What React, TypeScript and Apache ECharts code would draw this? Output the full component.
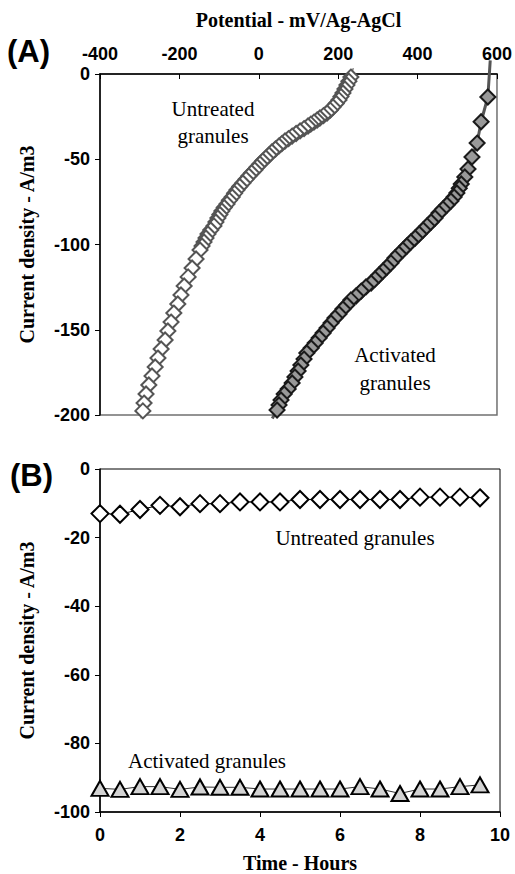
import React, { useEffect, useRef } from "react";
import * as echarts from "echarts";

// Panel A: polarisation curves (potential mV vs Ag-AgCl, current density A/m3)
const untreatedPotA = [232, 227, 222, 217, 212, 207, 202, 195, 187, 180, 172, 163, 154, 147, 139, 131, 124, 114, 104, 94, 84, 75, 66, 58, 51, 42, 33, 26, 18, 10, 3, -4, -10, -18, -25, -32, -40, -48, -55, -61, -67, -74, -80, -87, -93, -98, -103, -108, -113, -121, -128, -133, -138, -143, -148, -158, -168, -178, -188, -196, -204, -214, -221, -229, -236, -246, -254, -261, -269, -277, -284, -289, -292];
const untreatedCurA = [-1.8, -4.2, -6.5, -8.8, -11.1, -13.2, -15.2, -17.3, -19.4, -21.2, -22.9, -24.4, -25.8, -27.0, -28.2, -29.4, -30.5, -32.0, -33.4, -34.9, -36.4, -37.9, -39.3, -40.8, -42.2, -44.0, -45.7, -47.5, -49.3, -51.0, -52.8, -54.5, -56.3, -58.0, -59.8, -61.8, -63.9, -66.0, -68.0, -70.0, -72.1, -74.1, -76.2, -78.3, -80.4, -82.4, -84.5, -86.8, -89.1, -91.5, -93.8, -96.2, -98.5, -100.9, -103.2, -108.5, -113.8, -119.0, -124.3, -129.6, -134.9, -140.2, -145.5, -150.7, -156.0, -161.3, -166.6, -171.8, -177.1, -182.4, -187.7, -193.0, -197.6];
const untreatedFitEndsA = [[238, 3.5], [-297, -202]];

const activatedPotA = [577, 560, 550, 537, 527, 519, 510, 505, 499, 492, 484, 474, 464, 454, 444, 434, 424, 414, 404, 394, 383, 373, 363, 353, 343, 333, 323, 313, 303, 293, 283, 270, 258, 245, 232, 222, 212, 202, 192, 182, 172, 162, 152, 142, 132, 121, 114, 106, 99, 91, 84, 74, 64, 56, 51, 46];
const activatedCurA = [-13.5, -28.0, -40.5, -48.7, -55.7, -60.4, -64.5, -67.0, -69.8, -72.1, -74.5, -76.8, -79.2, -81.5, -84.5, -86.8, -89.1, -91.5, -93.8, -96.2, -98.5, -100.9, -103.2, -105.6, -107.9, -110.8, -113.2, -115.5, -117.9, -120.2, -122.6, -124.9, -127.3, -130.2, -132.5, -135.5, -137.8, -140.8, -143.1, -146.0, -149.0, -151.9, -154.8, -157.8, -160.7, -163.6, -167.2, -170.7, -174.2, -177.7, -181.2, -184.7, -187.7, -191.2, -194.1, -197.1];
const activatedFitEndsA = [[583, 8], [34, -202]];

// Panel B: current density over time
const hoursB = [0, 0.5, 1, 1.5, 2, 2.5, 3, 3.5, 4, 4.5, 5, 5.5, 6, 6.5, 7, 7.5, 8, 8.5, 9, 9.5];
const untreatedB = [-13.0, -13.2, -11.8, -10.6, -11.0, -10.1, -10.1, -9.6, -9.6, -9.6, -8.9, -8.9, -8.9, -8.9, -8.9, -8.9, -8.2, -8.2, -8.2, -8.4];
const activatedB = [-93.1, -93.4, -92.6, -92.6, -93.4, -92.7, -92.8, -92.8, -93.3, -93.3, -93.3, -93.3, -93.3, -92.6, -93.3, -94.6, -93.3, -93.3, -92.6, -92.1];

const SANS = "Liberation Sans, Arial, sans-serif";
const SERIF = "Liberation Serif, Times New Roman, serif";

const zip = (xs: number[], ys: number[]) => xs.map((x, i) => [x, ys[i]]);

export default function App() {
  const ref = useRef<HTMLDivElement>(null);
  useEffect(() => {
    document.body.style.margin = "0";
    const chart = echarts.init(ref.current!, null, { renderer: "svg" });
    const tickLabel = { fontFamily: SANS, fontWeight: "bold" as const, fontSize: 18, color: "#000" };
    const nameStyle = { fontFamily: SERIF, fontWeight: "bold" as const, fontSize: 20, color: "#000" };
    const untrA = zip(untreatedPotA, untreatedCurA);
    const actA = zip(activatedPotA, activatedCurA);
    chart.setOption({
      animation: false,
      grid: [
        { left: 100, top: 74, width: 397, height: 341, show: true, borderColor: "#707070", borderWidth: 1.5, backgroundColor: "transparent" },
        { left: 100, top: 469, width: 400, height: 348, show: true, borderColor: "#000", borderWidth: 1, backgroundColor: "transparent" },
      ],
      xAxis: [
        {
          gridIndex: 0, type: "value", position: "top", min: -400, max: 600, interval: 200,
          name: "Potential - mV/Ag-AgCl", nameLocation: "middle", nameGap: 44, nameTextStyle: nameStyle,
          axisLine: { show: true, lineStyle: { color: "#000", width: 1.5 } },
          axisTick: { show: true, inside: true, length: 5, lineStyle: { color: "#000" } },
          axisLabel: { ...tickLabel, margin: 11 },
          splitLine: { show: false },
        },
        {
          gridIndex: 1, type: "value", position: "bottom", min: 0, max: 10, interval: 2,
          name: "Time - Hours", nameLocation: "middle", nameGap: 41, nameTextStyle: nameStyle,
          axisLine: { show: true, onZero: false, lineStyle: { color: "#000", width: 1.5 } },
          axisTick: { show: true, inside: false, length: 5, lineStyle: { color: "#000" } },
          axisLabel: { ...tickLabel, margin: 14 },
          splitLine: { show: false },
        },
      ],
      yAxis: [
        {
          gridIndex: 0, type: "value", min: -200, max: 0, interval: 50,
          name: "Current density - A/m3", nameLocation: "middle", nameGap: 63, nameRotate: 90, nameTextStyle: nameStyle,
          axisLine: { show: true, onZero: false, lineStyle: { color: "#000", width: 1.5 } },
          axisTick: { show: true, inside: false, length: 5, lineStyle: { color: "#000" } },
          axisLabel: { ...tickLabel, margin: 10 },
          splitLine: { show: false },
        },
        {
          gridIndex: 1, type: "value", min: -100, max: 0, interval: 20,
          name: "Current density - A/m3", nameLocation: "middle", nameGap: 63, nameRotate: 90, nameTextStyle: nameStyle,
          axisLine: { show: true, onZero: false, lineStyle: { color: "#000", width: 1.5 } },
          axisTick: { show: true, inside: false, length: 5, lineStyle: { color: "#000" } },
          axisLabel: { ...tickLabel, margin: 10 },
          splitLine: { show: false },
        },
      ],
      series: [
        {
          type: "line", xAxisIndex: 0, yAxisIndex: 0, clip: false, showSymbol: false, symbol: "none", z: 1,
          data: [untreatedFitEndsA[0], ...untrA, untreatedFitEndsA[1]],
          lineStyle: { color: "#666", width: 1.2 },
        },
        {
          type: "line", xAxisIndex: 0, yAxisIndex: 0, clip: false, showSymbol: false, symbol: "none", z: 1,
          data: [activatedFitEndsA[0], ...actA, activatedFitEndsA[1]],
          lineStyle: { color: "#555", width: 3 },
        },
        {
          type: "scatter", xAxisIndex: 0, yAxisIndex: 0, z: 3, symbol: "diamond", symbolSize: 15,
          data: untrA,
          itemStyle: { color: "#fff", borderColor: "#555", borderWidth: 2, opacity: 1 },
        },
        {
          type: "scatter", xAxisIndex: 0, yAxisIndex: 0, z: 3, symbol: "diamond", symbolSize: 15,
          data: actA,
          itemStyle: { color: "#999", borderColor: "#1a1a1a", borderWidth: 2, opacity: 1 },
        },
        {
          type: "line", xAxisIndex: 1, yAxisIndex: 1, z: 3, symbol: "diamond", symbolSize: 17, showSymbol: true,
          data: zip(hoursB, untreatedB),
          lineStyle: { color: "#000", width: 1 },
          itemStyle: { color: "#fff", borderColor: "#000", borderWidth: 2 },
        },
        {
          type: "line", xAxisIndex: 1, yAxisIndex: 1, z: 3, symbol: "triangle", symbolSize: [17, 15], showSymbol: true,
          data: zip(hoursB, activatedB),
          lineStyle: { color: "#333", width: 1 },
          itemStyle: { color: "#d3d3d3", borderColor: "#000", borderWidth: 2 },
        },
      ],
      graphic: [
        { type: "text", left: 7, top: 36, style: { text: "(A)", font: `bold 31px ${SANS}`, fill: "#000" } },
        { type: "text", left: 10, top: 460, style: { text: "(B)", font: `bold 31px ${SANS}`, fill: "#000" } },
        { type: "text", x: 213, y: 122, style: { text: "Untreated\ngranules", font: `21px ${SERIF}`, fill: "#000", align: "center", verticalAlign: "middle", lineHeight: 27 } },
        { type: "text", x: 395, y: 369, style: { text: "Activated\ngranules", font: `21px ${SERIF}`, fill: "#000", align: "center", verticalAlign: "middle", lineHeight: 28 } },
        { type: "text", x: 355, y: 538, style: { text: "Untreated granules", font: `21px ${SERIF}`, fill: "#000", align: "center", verticalAlign: "middle" } },
        { type: "text", x: 207, y: 761, style: { text: "Activated granules", font: `21px ${SERIF}`, fill: "#000", align: "center", verticalAlign: "middle" } },
      ],
    });
    return () => chart.dispose();
  }, []);
  return <div ref={ref} style={{ position: "absolute", left: 0, top: 0, width: 515, height: 874, background: "#fff" }} />;
}
